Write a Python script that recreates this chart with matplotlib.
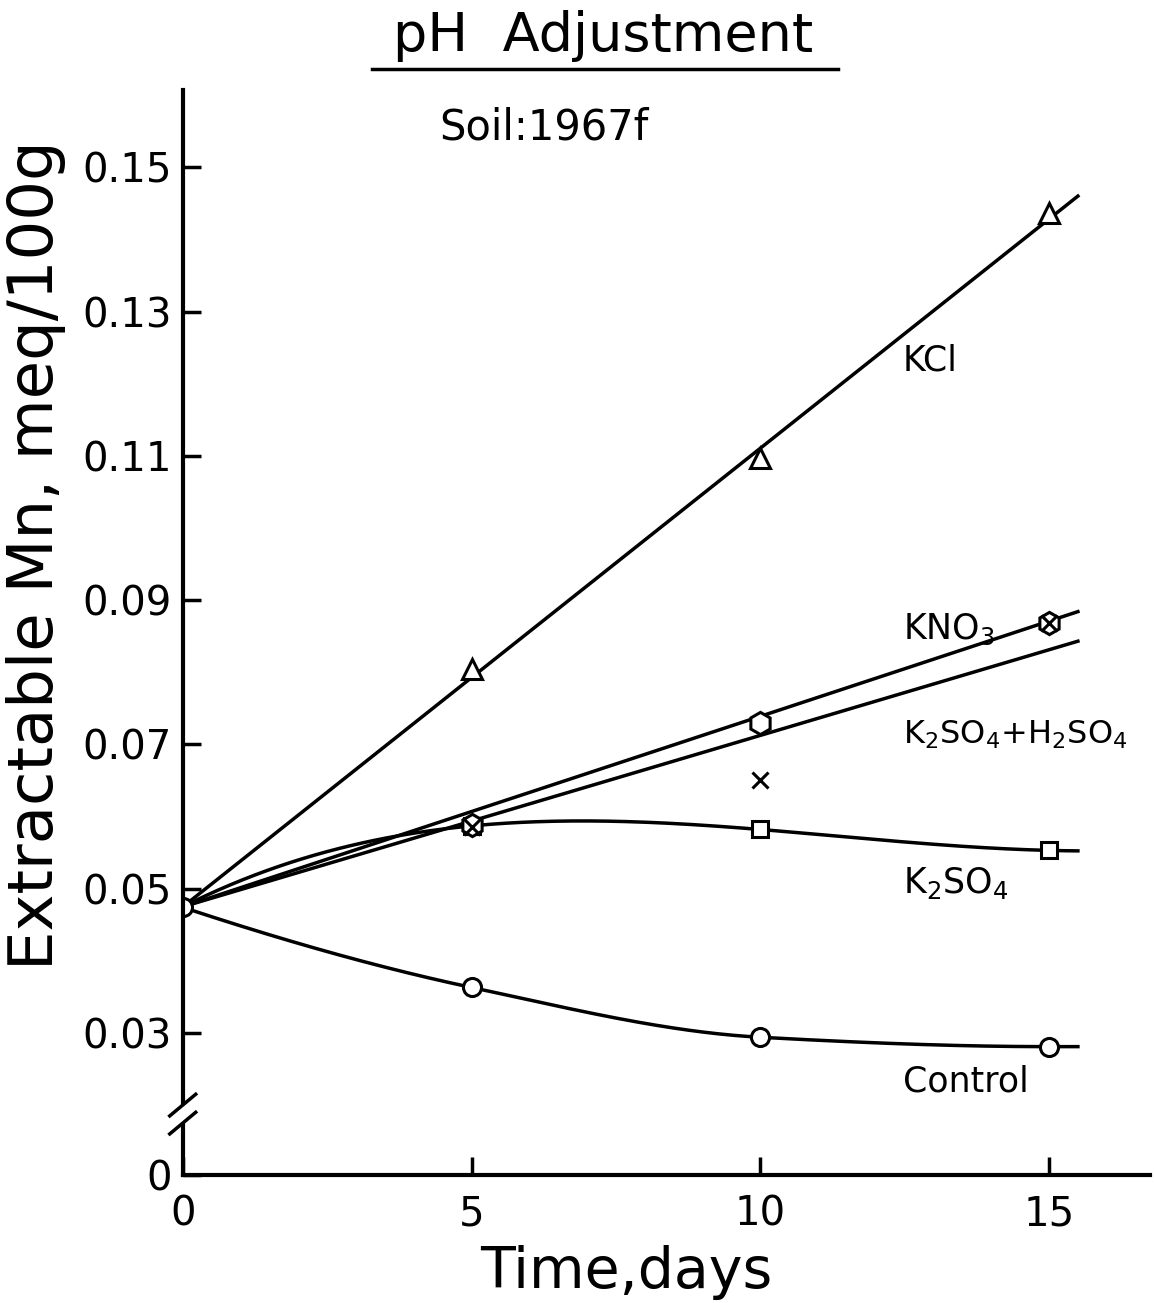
import numpy as np
import matplotlib.pyplot as plt
from matplotlib.lines import Line2D

# data
days = [0, 5, 10, 15]
control = [0.0474, 0.0363, 0.0294, 0.0281]
k2so4 = [0.0475, 0.0587, 0.0582, 0.0553]
kcl = [0.0804, 0.1097, 0.1436]
kno3 = [0.0588, 0.0729, 0.0868]
k2so4_h2so4 = [0.0586, 0.0651, 0.0868]
pt_days = [5, 10, 15]

# straight fitted lines (start / end values)
line_x = [0, 15.5]
kcl_line = [0.0475, 0.1460]
kno3_line = [0.0475, 0.0884]
k2so4_h2so4_line = [0.0475, 0.0843]

yticks = [0.03, 0.05, 0.07, 0.09, 0.11, 0.13, 0.15]
ybot, ytop = 0.0103, 0.1607


def pchip(x, y, xs):
    # monotone smooth curve through the points (flat after last point)
    x = np.asarray(x, float)
    y = np.asarray(y, float)
    h = np.diff(x)
    d = np.diff(y) / h
    m = np.zeros(len(x))
    for i in range(1, len(x) - 1):
        if d[i - 1] * d[i] > 0:
            w1 = 2 * h[i] + h[i - 1]
            w2 = h[i] + 2 * h[i - 1]
            m[i] = (w1 + w2) / (w1 / d[i - 1] + w2 / d[i])
    m[0] = ((2 * h[0] + h[1]) * d[0] - h[0] * d[1]) / (h[0] + h[1])
    if m[0] * d[0] <= 0:
        m[0] = 0
    m[-1] = 0
    out = []
    for xv in xs:
        if xv >= x[-1]:
            out.append(y[-1] + m[-1] * (xv - x[-1]))
            continue
        k = min(np.searchsorted(x, xv, side='right') - 1, len(x) - 2)
        t = (xv - x[k]) / h[k]
        h00 = 2 * t**3 - 3 * t**2 + 1
        h10 = t**3 - 2 * t**2 + t
        h01 = -2 * t**3 + 3 * t**2
        h11 = t**3 - t**2
        out.append(h00 * y[k] + h10 * h[k] * m[k] + h01 * y[k + 1] + h11 * h[k] * m[k + 1])
    return np.array(out)


plt.rcParams['font.family'] = 'DejaVu Sans'
plt.rcParams['mathtext.fontset'] = 'dejavusans'

fig = plt.figure(figsize=(11.54, 13.03), dpi=100)
ax = fig.add_axes([0.1586, 0.0982, 0.838, 0.8327])

lw = 2.5
xs = np.linspace(0, 15.5, 300)
c_k2 = np.polyfit(days, k2so4, 3)
ax.plot(xs, pchip(days, control, xs), 'k-', lw=lw)
ax.plot(xs, np.polyval(c_k2, xs), 'k-', lw=lw)
ax.plot(line_x, kcl_line, 'k-', lw=lw)
ax.plot(line_x, kno3_line, 'k-', lw=lw)
ax.plot(line_x, k2so4_h2so4_line, 'k-', lw=lw)

mk = dict(ls='none', mfc='white', mec='black', mew=2.2)
ax.plot(days, control, marker='o', ms=13, **mk)
ax.plot(days[1:], k2so4[1:], marker='s', ms=12, **mk)
ax.plot(pt_days, kcl, marker='^', ms=15, **mk)
ax.plot(pt_days, kno3, marker='h', ms=16, **mk)
ax.plot(pt_days, k2so4_h2so4, marker='x', ms=11, ls='none', color='black', mew=2.2)

ax.set_xlim(0, 16.75)
ax.set_ylim(ybot, ytop)
ax.set_xticks([0, 5, 10, 15])
ax.set_xticklabels(['0', '5', '10', '15'])
ax.set_yticks([ybot] + yticks)
ax.set_yticklabels(['0'] + ['%.2f' % v for v in yticks])
ax.tick_params(direction='in', length=13, width=2.5, labelsize=29)
ax.tick_params(axis='x', pad=14)
ax.tick_params(axis='y', pad=8)

for s in ['top', 'right']:
    ax.spines[s].set_visible(False)
ax.spines['bottom'].set_linewidth(3)
ax.spines['left'].set_visible(False)

# broken y axis
yb1, yb2 = 0.0203, 0.0172
tr = ax.get_yaxis_transform()
ax.plot([0, 0], [yb1, ytop], color='black', lw=3, transform=tr, clip_on=False)
ax.plot([0, 0], [ybot, yb2], color='black', lw=3, transform=tr, clip_on=False)
for yc in [yb1 - 0.0003, yb2 + 0.0003]:
    ax.plot([-0.23, 0.22], [yc - 0.0015, yc + 0.0015], color='black', lw=2.5,
            clip_on=False)

fig.text(626 / 1154, 1 - 1272 / 1303, 'Time,days', fontsize=41, ha='center', va='center')
fig.text(36 / 1154, 1 - 555 / 1303, 'Extractable Mn, meq/100g', fontsize=45,
         rotation=90, ha='center', va='center')

# curve labels
fs = 25
ax.text(12.47, 0.1232, 'KCl', fontsize=fs, ha='left', va='center')
ax.text(12.47, 0.0860, r'KNO$_3$', fontsize=fs, ha='left', va='center')
ax.text(12.47, 0.0713, r'K$_2$SO$_4$+H$_2$SO$_4$', fontsize=23, ha='left', va='center')
ax.text(12.47, 0.0508, r'K$_2$SO$_4$', fontsize=fs, ha='left', va='center')
ax.text(12.47, 0.0232, 'Control', fontsize=fs, ha='left', va='center')

fig.text(0.381, 0.9025, 'Soil:1967f', fontsize=30, ha='left', va='center')
fig.text(0.523, 0.972, 'pH  Adjustment', fontsize=39, ha='center', va='center')
fig.add_artist(Line2D([0.322, 0.726], [0.947, 0.947], color='black', lw=2.5))

fig.savefig('out.png', dpi=100)
